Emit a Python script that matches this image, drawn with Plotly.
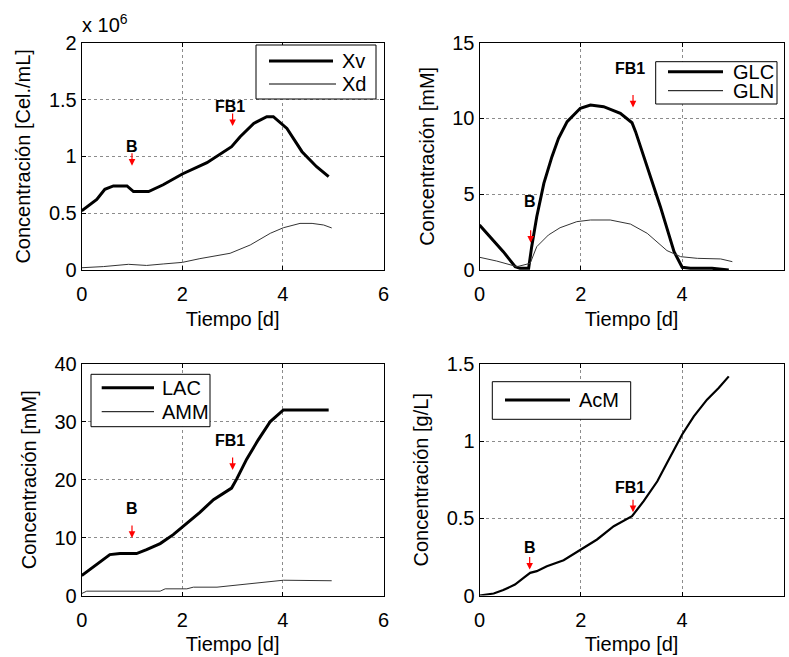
import plotly.graph_objects as go

W, H = 789, 657

# ---------------- data ----------------
t_xv = [0, 0.3, 0.46, 0.63, 0.9, 1.03, 1.33, 1.62, 2.0, 2.49, 2.98, 3.15, 3.42, 3.68, 3.81, 4.08, 4.38, 4.67, 4.91]
xv = [0.52, 0.62, 0.71, 0.74, 0.74, 0.69, 0.69, 0.75, 0.845, 0.944, 1.085, 1.173, 1.29, 1.349, 1.349, 1.246, 1.041, 0.909, 0.821]
t_xd = [0, 0.43, 0.93, 1.29, 1.62, 2.0, 2.35, 2.95, 3.35, 3.75, 4.01, 4.34, 4.58, 4.81, 4.97]
xd = [0.02, 0.03, 0.05, 0.04, 0.053, 0.067, 0.10, 0.147, 0.22, 0.323, 0.372, 0.41, 0.41, 0.396, 0.37]

t_glc = [0, 0.21, 0.47, 0.705, 0.8, 0.97, 1.03, 1.13, 1.27, 1.43, 1.56, 1.73, 1.99, 2.19, 2.45, 2.78, 3.01, 3.08, 3.31, 3.57, 3.84, 4.0, 4.16, 4.59, 4.92]
glc = [2.97, 2.2, 1.21, 0.22, 0.11, 0.11, 1.54, 3.52, 5.72, 7.48, 8.69, 9.79, 10.67, 10.89, 10.78, 10.34, 9.72, 9.13, 6.82, 4.18, 1.21, 0.18, 0.11, 0.11, 0.0]
t_gln = [0, 0.34, 0.74, 1.0, 1.13, 1.36, 1.59, 1.92, 2.19, 2.58, 2.98, 3.31, 3.7, 3.97, 4.3, 4.76, 4.99]
gln = [0.84, 0.59, 0.22, 0.44, 1.54, 2.31, 2.79, 3.19, 3.3, 3.3, 3.03, 2.42, 1.28, 0.88, 0.77, 0.73, 0.55]

t_lac = [0, 0.3, 0.56, 0.76, 1.09, 1.29, 1.56, 1.82, 2.09, 2.35, 2.62, 2.98, 3.08, 3.28, 3.51, 3.75, 4.01, 4.91]
lac = [3.45, 5.34, 7.07, 7.24, 7.24, 7.93, 8.97, 10.52, 12.41, 14.37, 16.55, 18.56, 20.11, 23.56, 26.9, 30.06, 32.07, 32.07]
t_amm = [0, 0.1, 1.56, 1.66, 2.09, 2.22, 2.69, 3.08, 3.61, 4.01, 4.97]
amm = [0.34, 0.75, 0.75, 1.15, 1.15, 1.44, 1.44, 1.78, 2.36, 2.64, 2.55]

t_acm = [0, 0.28, 0.47, 0.7, 0.87, 1.0, 1.13, 1.33, 1.66, 1.99, 2.32, 2.65, 3.01, 3.24, 3.51, 3.7, 4.0, 4.23, 4.49, 4.72, 4.92]
acm = [0, 0.013, 0.035, 0.071, 0.114, 0.147, 0.158, 0.19, 0.229, 0.294, 0.363, 0.449, 0.514, 0.611, 0.74, 0.859, 1.043, 1.161, 1.269, 1.345, 1.42]

# event annotations per panel: (label, text_x, text_y, arrow_x, arrow_tip_y)
events_tl = [("B", 1.0, 1.085, 1.0, 0.918), ("FB1", 2.95, 1.443, 3.0, 1.267)]
events_tr = [("B", 0.99, 4.5, 1.01, 1.8), ("FB1", 2.98, 13.3, 3.03, 10.73)]
events_bl = [("B", 1.0, 15.1, 1.0, 9.94), ("FB1", 2.95, 26.8, 3.0, 21.7)]
events_br = [("B", 0.99, 0.313, 0.99, 0.168), ("FB1", 2.97, 0.697, 3.03, 0.54)]

x_ticks = [0, 2, 4, 6]
FONT = "Liberation Sans, Arial, sans-serif"
FS = 20

fig = go.Figure()

def add_line(x, y, xa, ya, width, color="black"):
    fig.add_trace(go.Scatter(x=x, y=y, mode="lines", xaxis=xa, yaxis=ya,
                             line=dict(color=color, width=width), showlegend=False,
                             hoverinfo="skip"))

add_line(t_xv, xv, "x", "y", 3)
add_line(t_xd, xd, "x", "y", 1, "#333")
add_line(t_glc, glc, "x2", "y2", 3)
add_line(t_gln, gln, "x2", "y2", 1, "#333")
add_line(t_lac, lac, "x3", "y3", 3)
add_line(t_amm, amm, "x3", "y3", 1, "#333")
add_line(t_acm, acm, "x4", "y4", 2.2)

def px_x(p):
    return p / W

def px_y(p):
    return 1 - p / H

col1 = [px_x(81.7), px_x(383.5)]
col2 = [px_x(479.5), px_x(783.5)]
row1 = [px_y(270), px_y(42.7)]
row2 = [px_y(595.5), px_y(364)]

def xax(domain, anchor):
    return dict(domain=domain, anchor=anchor, range=[0, 6], tickvals=x_ticks,
                automargin=False, ticklabelstandoff=6,
                showline=True, linecolor="black", linewidth=1, mirror="ticks",
                ticks="inside", ticklen=4, tickcolor="black",
                showgrid=True, gridcolor="#8c8c8c", griddash="dot", gridwidth=1,
                zeroline=False, tickfont=dict(family=FONT, size=FS, color="black"),
                title=dict(text="Tiempo [d]", font=dict(family=FONT, size=FS, color="black"),
                           standoff=7))

def yax(domain, anchor, rng, dtick, title):
    return dict(domain=domain, anchor=anchor, range=rng, dtick=dtick,
                automargin=False,
                showline=True, linecolor="black", linewidth=1, mirror="ticks",
                ticks="inside", ticklen=4, tickcolor="black",
                showgrid=True, gridcolor="#8c8c8c", griddash="dot", gridwidth=1,
                zeroline=False, tickfont=dict(family=FONT, size=FS, color="black"),
                title=dict(text=title, font=dict(family=FONT, size=FS, color="black"),
                           standoff=12))

fig.update_layout(
    template="none",
    width=W, height=H, margin=dict(l=0, r=0, t=0, b=0, autoexpand=False),
    paper_bgcolor="white", plot_bgcolor="white", showlegend=False,
    xaxis=xax(col1, "y"), yaxis=yax(row1, "x", [0, 2], 0.5, "Concentración [Cel./mL]"),
    xaxis2=xax(col2, "y2"), yaxis2=yax(row1, "x2", [0, 15], 5, "Concentración [mM]"),
    xaxis3=xax(col1, "y3"), yaxis3=yax(row2, "x3", [0, 40], 10, "Concentración [mM]"),
    xaxis4=xax(col2, "y4"), yaxis4=yax(row2, "x4", [0, 1.5], 0.5, "Concentración [g/L]"),
)

annotations = []
shapes = []

def add_events(events, xr, yr):
    for label, tx, ty, ax_, tip in events:
        annotations.append(dict(x=tx, y=ty, xref=xr, yref=yr, text="<b>%s</b>" % label,
                                showarrow=False, font=dict(family=FONT, size=16, color="black"),
                                xanchor="center", yanchor="middle"))
        annotations.append(dict(x=ax_, y=tip, xref=xr, yref=yr, text="", showarrow=True,
                                ax=0, ay=-14, axref="pixel", ayref="pixel",
                                arrowcolor="red", arrowwidth=1.2, arrowhead=2, arrowsize=1.1,
                                standoff=0))

add_events(events_tl, "x", "y")
add_events(events_tr, "x2", "y2")
add_events(events_bl, "x3", "y3")
add_events(events_br, "x4", "y4")

# "x 10^6" multiplier label
annotations.append(dict(x=px_x(80), y=px_y(38), xref="paper", yref="paper",
                        text="x 10<sup>6</sup>", showarrow=False, xanchor="left", yanchor="bottom",
                        font=dict(family=FONT, size=20, color="black")))

# manual MATLAB-style legends (pixel boxes)
def legend_box(box, items):
    x0, x1, y0, y1 = box
    shapes.append(dict(type="rect", xref="paper", yref="paper",
                       x0=px_x(x0), x1=px_x(x1), y0=px_y(y1), y1=px_y(y0),
                       line=dict(color="black", width=1), fillcolor="white", layer="above"))
    for label, lw, lx0, lx1, ly, tx in items:
        shapes.append(dict(type="line", xref="paper", yref="paper",
                           x0=px_x(lx0), x1=px_x(lx1), y0=px_y(ly), y1=px_y(ly),
                           line=dict(color="black", width=lw), layer="above"))
        annotations.append(dict(x=px_x(tx), y=px_y(ly), xref="paper", yref="paper",
                                text=label, showarrow=False, xanchor="left", yanchor="middle",
                                font=dict(family=FONT, size=FS, color="black")))

legend_box((256, 376, 45, 99), [("Xv", 3, 269, 333, 61, 340), ("Xd", 1, 269, 336, 84, 340)])
legend_box((655.7, 777, 61.7, 104), [("GLC", 3, 668, 723, 71.7, 731), ("GLN", 1, 668, 723, 90.7, 731)])
legend_box((91, 210, 374.3, 426.7), [("LAC", 3, 101.7, 154, 387.7, 160), ("AMM", 1, 101.7, 154, 411.7, 160)])
legend_box((492.3, 630.7, 381.7, 419.3), [("AcM", 3, 505, 570, 400, 577)])

fig.update_layout(annotations=annotations, shapes=shapes)

fig.write_html("out.html", config={"displayModeBar": False},
               post_script="document.body.style.margin='0';document.body.style.padding='0';")
